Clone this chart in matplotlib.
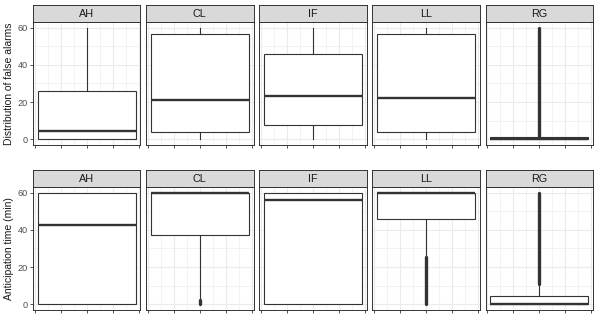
import numpy as np
import matplotlib
matplotlib.use("Agg")
import matplotlib.pyplot as plt

plt.rcParams['font.family'] = ['Liberation Sans', 'DejaVu Sans']

methods = ['AH', 'CL', 'IF', 'LL', 'RG']
row_titles = ['Distribution of false alarms', 'Anticipation time (min)']

# false alarms: whisker low, q1, median, q3, whisker high
fa_whislo = [0, 0, 0, 0, 0]
fa_q1 = [0.3, 4.1, 7.7, 4.1, 0]
fa_med = [4.7, 21.1, 23.4, 22.3, 0]
fa_q3 = [26.1, 56.6, 45.9, 56.6, 1.2]
fa_whishi = [60, 60, 60, 60, 1.6]
# outliers are so dense they read as a solid run: (low, high) or None
fa_outliers = [None, None, None, None, (2.0, 60)]

# anticipation time
at_whislo = [0, 3.0, 0, 25.5, 0]
at_q1 = [0, 37.0, 0, 45.9, 0]
at_med = [42.7, 60, 55.8, 60, 0]
at_q3 = [60, 60, 60, 60, 4.6]
at_whishi = [60, 60, 60, 60, 10.9]
at_outliers = [None, (0.3, 2.4), None, (0.3, 25.3), (11.2, 60)]

rows = [
    (fa_whislo, fa_q1, fa_med, fa_q3, fa_whishi, fa_outliers),
    (at_whislo, at_q1, at_med, at_q3, at_whishi, at_outliers),
]

W, H = 598, 329
fig = plt.figure(figsize=(W / 100, H / 100), dpi=100)

left0, right_end, gap = 33, 593, 5.7
pw = (right_end - left0 - 4 * gap) / 5
panel_tops = [22, 187]
panel_h = 123
strip_h = 17.5
edge = '#333333'

for r, (wlo, q1, med, q3, whi, outl) in enumerate(rows):
    top = panel_tops[r]
    for c, m in enumerate(methods):
        x0 = left0 + c * (pw + gap)
        ax = fig.add_axes([x0 / W, 1 - (top + panel_h) / H, pw / W, panel_h / H])
        sx = fig.add_axes([x0 / W, 1 - top / H, pw / W, strip_h / H])
        sx.set_facecolor('#D9D9D9')
        sx.set_xticks([]); sx.set_yticks([])
        for s in sx.spines.values():
            s.set_color(edge); s.set_linewidth(0.7)
        sx.text(0.5, 0.45, m, ha='center', va='center', fontsize=7.8, color='#1A1A1A',
                transform=sx.transAxes)

        stats = [dict(whislo=wlo[c], q1=q1[c], med=med[c], q3=q3[c], whishi=whi[c],
                      fliers=[])]
        ax.bxp(stats, positions=[0], widths=0.75, showfliers=False, showcaps=False,
               patch_artist=True,
               boxprops=dict(facecolor='white', edgecolor=edge, linewidth=0.8),
               medianprops=dict(color=edge, linewidth=1.7, solid_capstyle='butt'),
               whiskerprops=dict(color=edge, linewidth=0.8))
        if outl[c] is not None:
            lo, hi = outl[c]
            ax.plot([0, 0], [lo, hi], color=edge, linewidth=2.4,
                    solid_capstyle='round', zorder=4)

        ax.set_xlim(-0.4125, 0.4125)
        ax.set_ylim(-3, 63)
        ax.set_xticks([-0.4, -0.2, 0, 0.2, 0.4])
        ax.set_xticks([-0.3, -0.1, 0.1, 0.3], minor=True)
        ax.set_yticks([0, 20, 40, 60])
        ax.set_yticks([10, 30, 50], minor=True)
        ax.set_xticklabels([])
        ax.grid(True, which='major', color='#EBEBEB', linewidth=0.8)
        ax.grid(True, which='minor', color='#EBEBEB', linewidth=0.4)
        ax.set_axisbelow(True)
        ax.tick_params(which='minor', length=0)
        ax.tick_params(which='major', length=2.5, width=0.6, color=edge,
                       labelsize=6.6, labelcolor='#4D4D4D', pad=1.5)
        if c > 0:
            ax.tick_params(axis='y', which='major', length=0, labelleft=False)
        for s in ax.spines.values():
            s.set_color(edge); s.set_linewidth(0.7)

    fig.text(9.5 / W, 1 - (top + panel_h / 2) / H, row_titles[r], rotation=90,
             ha='center', va='center', fontsize=7.5, color='#1A1A1A')

fig.savefig('out.png', dpi=100)
